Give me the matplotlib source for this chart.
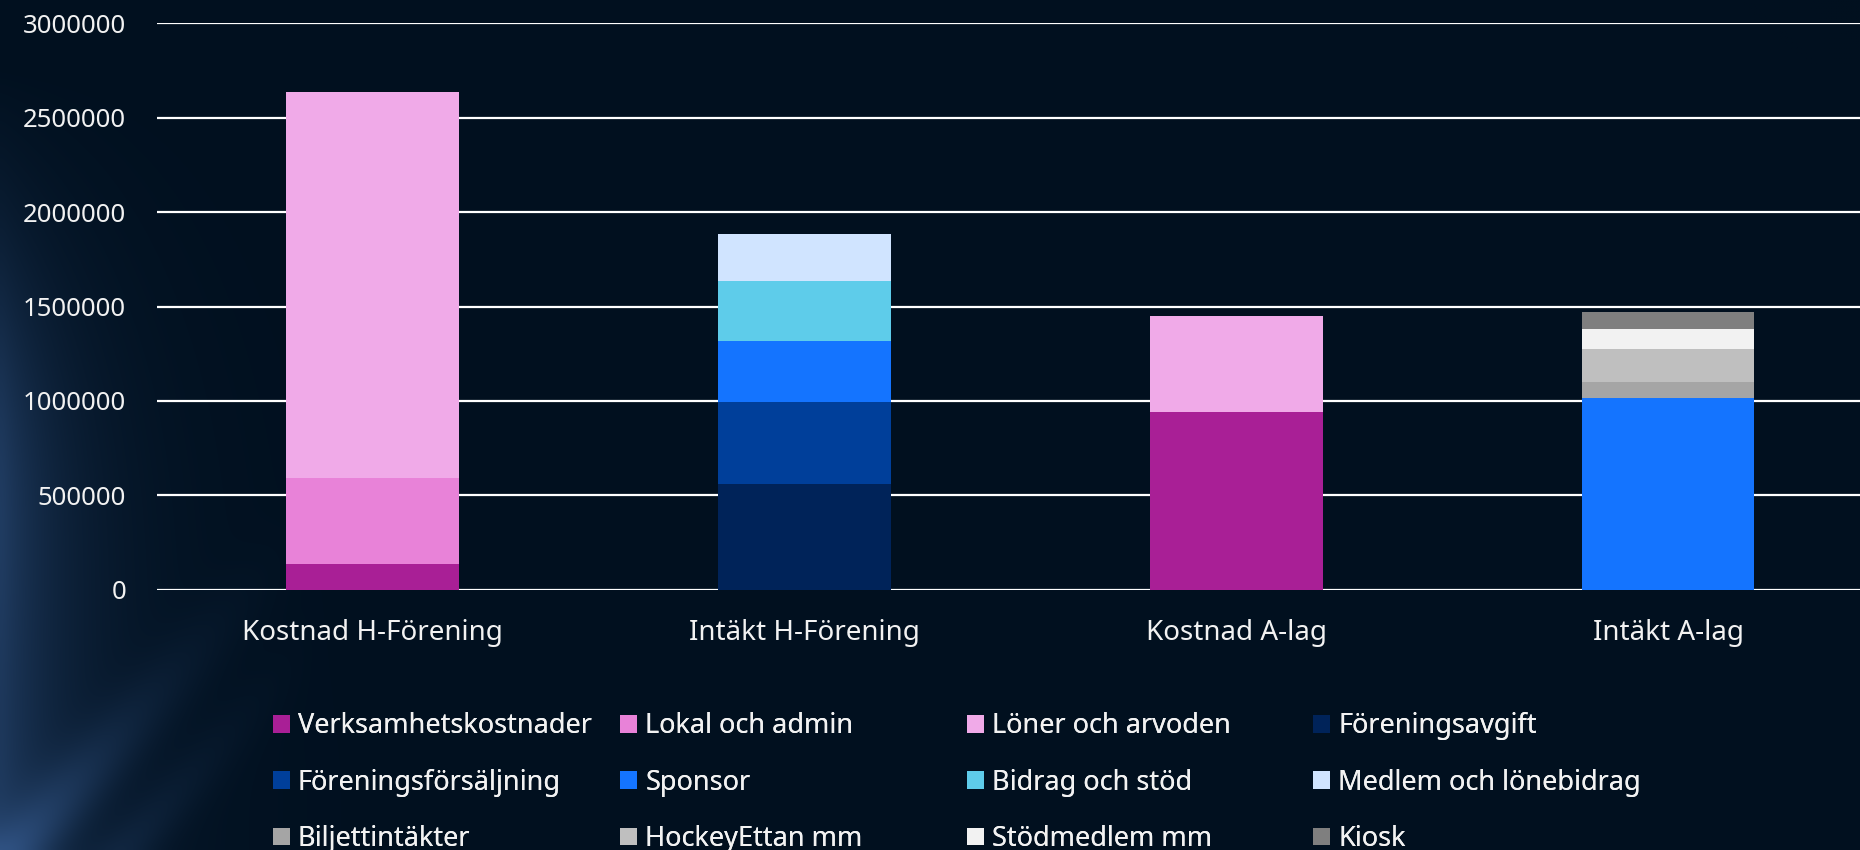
import matplotlib
matplotlib.use("Agg")
import matplotlib.pyplot as plt
from matplotlib.patches import Patch
import numpy as np

# kategorier på x-axeln
kategorier = ["Kostnad H-Förening", "Intäkt H-Förening", "Kostnad A-lag", "Intäkt A-lag"]

# serier (värde per kategori, 0 = saknas)
serier = [
    "Verksamhetskostnader", "Lokal och admin", "Löner och arvoden", "Föreningsavgift",
    "Föreningsförsäljning", "Sponsor", "Bidrag och stöd", "Medlem och lönebidrag",
    "Biljettintäkter", "HockeyEttan mm", "Stödmedlem mm", "Kiosk",
]
verksamhet = [136000, 0, 941000, 0]
lokal = [453000, 0, 0, 0]
loner = [2048000, 0, 509000, 0]
foreningsavgift = [0, 559000, 0, 0]
forsaljning = [0, 433000, 0, 0]
sponsor = [0, 324000, 0, 1016000]
bidrag = [0, 320000, 0, 0]
medlem = [0, 247000, 0, 0]
biljett = [0, 0, 0, 85000]
hockeyettan = [0, 0, 0, 175000]
stodmedlem = [0, 0, 0, 106000]
kiosk = [0, 0, 0, 90000]
varden = [verksamhet, lokal, loner, foreningsavgift, forsaljning, sponsor,
          bidrag, medlem, biljett, hockeyettan, stodmedlem, kiosk]

farger = ["#A91F96", "#E882D8", "#F0AAE8", "#002359",
          "#003F9A", "#1474FF", "#5ECCEA", "#D0E4FF",
          "#A5A5A5", "#BFBFBF", "#F2F2F2", "#7F7F7F"]

yticks = [0, 500000, 1000000, 1500000, 2000000, 2500000, 3000000]

textfarg = "#F2F2F2"
plt.rcParams['font.family'] = ['Noto Sans', 'DejaVu Sans']

fig = plt.figure(figsize=(18.6, 8.5), dpi=100)
fig.patch.set_facecolor("#01101F")

# bakgrund: mörkblå med svaga ljusstrimmor längs vänsterkanten
W, H = 372, 170
u = np.linspace(0, 1, W)[None, :]
v = np.linspace(1, 0, H)[:, None]
bas = np.array([1, 16, 31]) / 255.0
glod = np.array([50, 85, 135]) / 255.0
kant = np.exp(-u / 0.045) * np.clip(1.1 - v * 1.2, 0, 1) * 0.55
d = (u * 2.2 - v * 0.9)            # diagonala strimmor nere till vänster
strimma = np.exp(-((d - 0.02) / 0.05) ** 2) * 0.45 + np.exp(-((d - 0.15) / 0.04) ** 2) * 0.3
strimma = strimma * np.clip(1 - v / 0.45, 0, 1) * np.clip(1 - u / 0.17, 0, 1)
hojd = np.exp(-u / 0.03) * np.exp(-((v - 0.45) / 0.25) ** 2) * 0.3
tot = np.clip(kant + strimma + hojd, 0, 1)[..., None]
bild = bas[None, None, :] * (1 - tot) + glod[None, None, :] * tot
bg = fig.add_axes([0, 0, 1, 1])
bg.imshow(bild, aspect="auto", extent=(0, 1, 0, 1), interpolation="bicubic")
bg.axis("off")

ax = fig.add_axes([0.0842, 0.3064, 0.9287, 0.666])
ax.set_facecolor("none")

x = np.arange(len(kategorier))
botten = np.zeros(len(kategorier))
for namn, vals, f in zip(serier, varden, farger):
    vals = np.array(vals, dtype=float)
    ax.bar(x, vals, 0.4, bottom=botten, color=f, label=namn, zorder=3)
    botten += vals

ax.set_xlim(-0.5, 3.5)
ax.set_ylim(0, 3000000)
ax.set_yticks(yticks)
ax.set_yticklabels([str(t) for t in yticks])
ax.set_xticks(x)
ax.set_xticklabels(kategorier)
ax.tick_params(axis="y", length=0, pad=22, labelsize=18.5, labelcolor=textfarg)
ax.tick_params(axis="x", length=0, pad=21, labelsize=20, labelcolor=textfarg)
ax.grid(axis="y", color="white", linewidth=1.6, zorder=1)
ax.set_axisbelow(True)
for s in ax.spines.values():
    s.set_visible(False)

# legend: fyra kolumner med lika bredd, radvis ordning som i originalet
kol_x = [0.1467, 0.3335, 0.5198, 0.7060]
for k in range(4):
    idx = [k, k + 4, k + 8]
    handles = [Patch(facecolor=farger[i], edgecolor="none") for i in idx]
    labels = [serier[i] for i in idx]
    leg = fig.legend(handles, labels, loc="upper left", bbox_to_anchor=(kol_x[k], 0.162),
                     frameon=False, borderpad=0, borderaxespad=0,
                     fontsize=19.5, labelcolor=textfarg, handlelength=0.62, handleheight=0.62,
                     handletextpad=0.3, labelspacing=1.05)
    fig.add_artist(leg)

plt.savefig("out.png", dpi=100, facecolor=fig.get_facecolor())
